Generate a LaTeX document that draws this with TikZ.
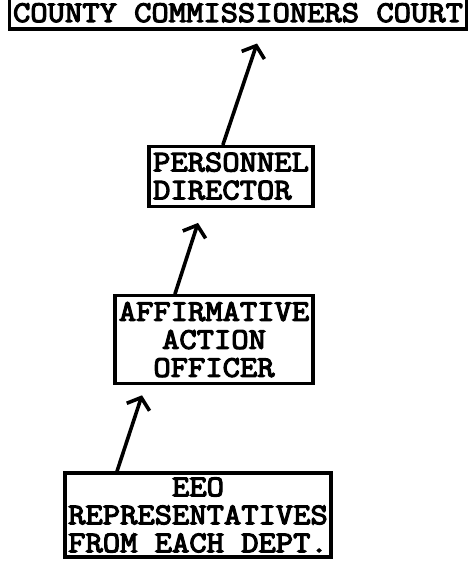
\documentclass[tikz,border=0pt]{standalone}
\usepackage{fontspec}
\setmonofont{Latin Modern Mono}[AutoFakeBold=4,FakeStretch=1.12]
\usepackage{tikz}
\usetikzlibrary{arrows.meta,positioning}

\begin{document}
\begin{tikzpicture}[% List of styles applied to all, to override specify on a case-by-case
			every node/.style={
				align=center,  		% use this so that the "\\" for line break works
				inner sep=1pt,
				font=\ttfamily\bfseries\fontsize{30}{28}\selectfont
			},
			every edge/.style={draw,line width=3.6pt,line cap=round,
				-{Straight Barb[length=10pt,width=24pt,line width=3.6pt]}}
		]
		\useasboundingbox (0pt,0pt) rectangle (471pt,-563pt);
		\node[rectangle,line width=3.4pt,draw=black,minimum width=266pt,minimum height=84pt](R4) at (198pt,-515pt){EEO\\REPRESENTATIVES\\FROM EACH DEPT.};
		\node[rectangle,line width=3.4pt,draw=black,minimum width=198pt,minimum height=88pt](R3)[above=86pt of R4,xshift=16pt]{AFFIRMATIVE\\ACTION\\OFFICER};
		\node[rectangle,line width=3.4pt,draw=black,minimum width=164pt,minimum height=60pt,align=left](R2)[above=86pt of R3,xshift=17pt]{PERSONNEL\\DIRECTOR};
		\node[rectangle,line width=3.4pt,draw=black,minimum width=457pt,minimum height=32pt](R1)[above=114pt of R2,xshift=7pt]{COUNTY COMMISSIONERS COURT};
		\path
		([xshift=-81pt]R4.north)edge []	node [] {} ([xshift=-72pt,yshift=-10pt]R3.south)
		([xshift=-39pt]R3.north)edge []	node [] {} ([xshift=-33pt,yshift=-15pt]R2.south)
		([xshift=-8pt]R2.north)edge []	node [] {} ([xshift=19pt,yshift=-13pt]R1.south)
		;
	\end{tikzpicture}
\end{document}
